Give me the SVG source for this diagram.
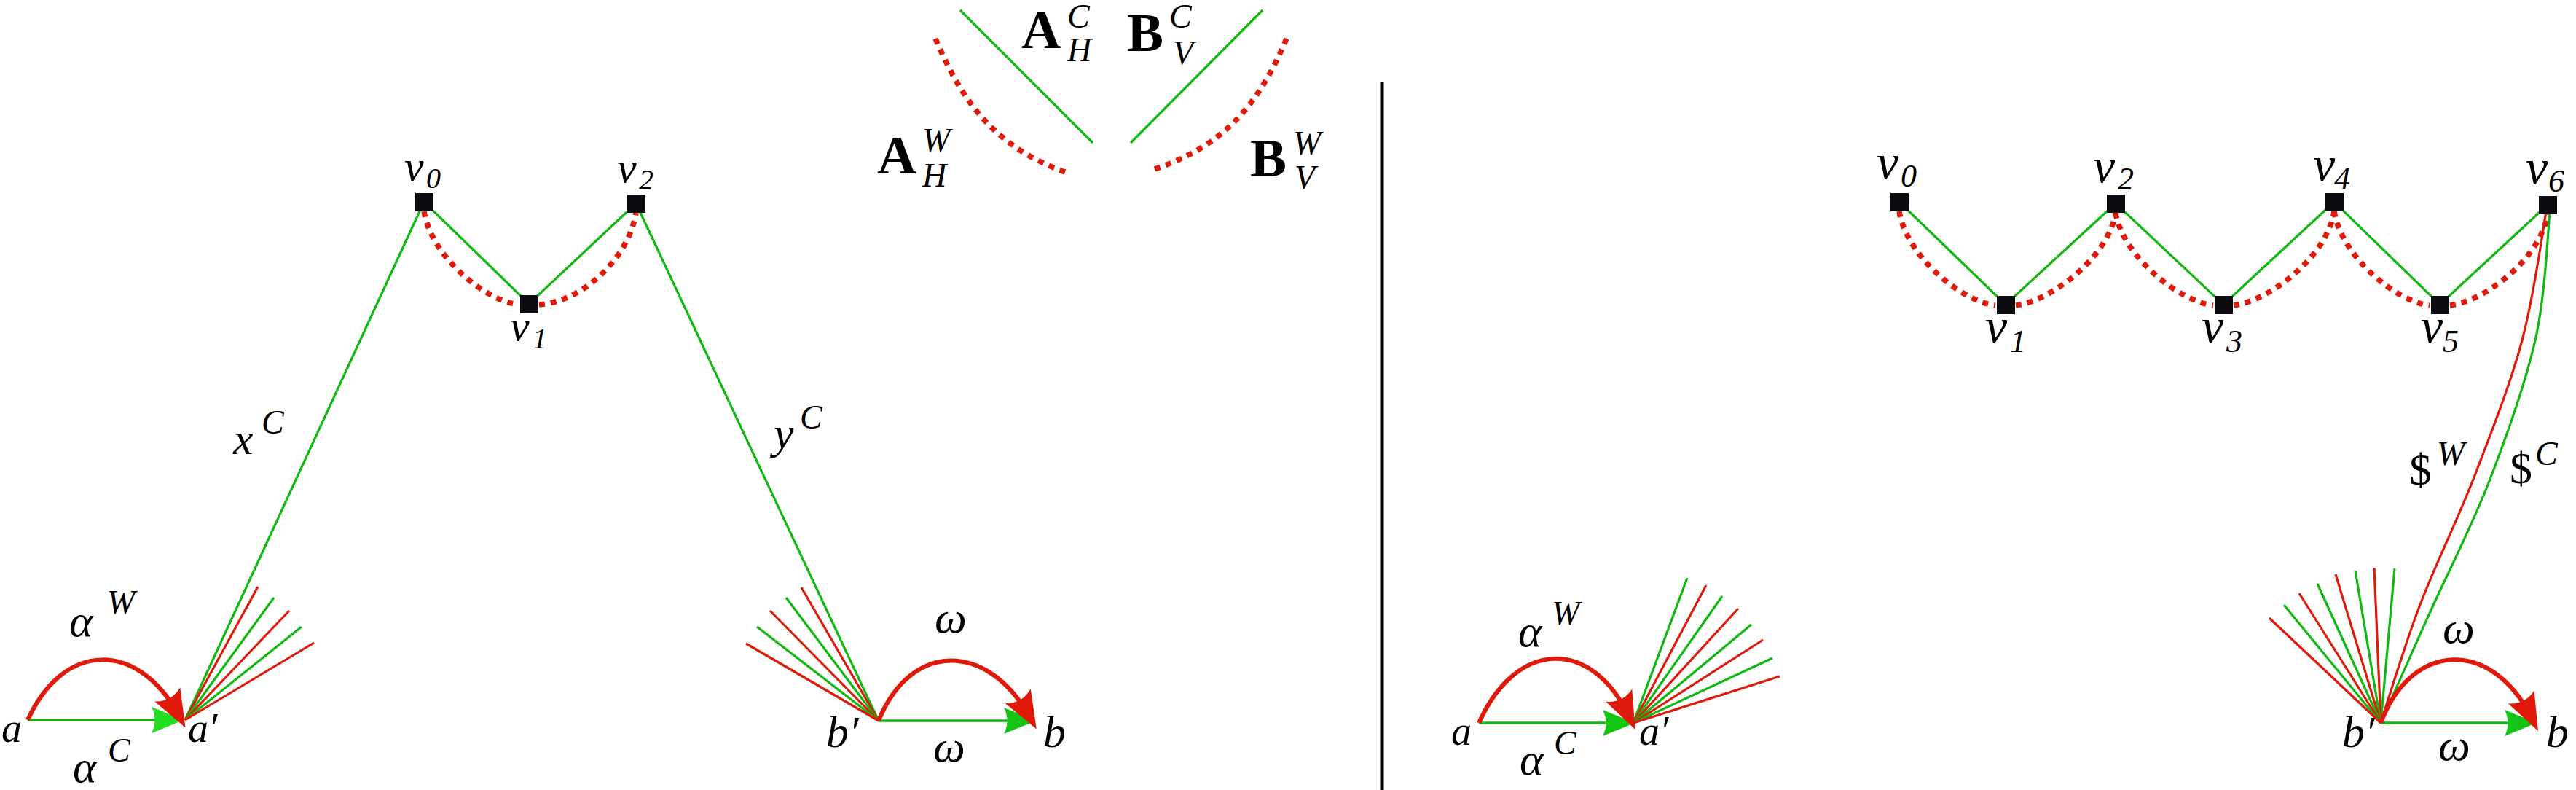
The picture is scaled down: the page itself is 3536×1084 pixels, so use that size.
<svg xmlns="http://www.w3.org/2000/svg" width="3536" height="1084" viewBox="0 0 3536 1084" font-family="'Liberation Serif', 'DejaVu Serif', serif">
<style>
.g{stroke:#12b812;stroke-width:3.2;fill:none}
.r{stroke:#e01a0a;stroke-width:3.2;fill:none}
.rd{stroke:#e01a0a;stroke-width:7.5;stroke-dasharray:8 8;fill:none}
.rt{stroke:#e01a0a;stroke-width:6;fill:none;marker-end:url(#ahR)}
.ga{stroke:#12b812;stroke-width:3.5;fill:none;marker-end:url(#ahG)}
.gal{stroke:#12b812;stroke-width:3.5;fill:none;marker-end:url(#ahGL)}
.sq{fill:#0c0c10}
text{font-family:'Liberation Serif','DejaVu Serif',serif;font-style:italic;fill:#000}
.bf{font-weight:bold;font-style:normal}
.ss{font-weight:normal;font-style:italic;font-size:46px}
.up{font-style:normal}
.m{font-size:62px}
.s{font-size:46px}
.vl{font-size:60px}
.vs{font-size:40px}
.vr{font-size:68px}
.vrs{font-size:44px}
</style>
<defs>
<marker id="ahR" markerUnits="userSpaceOnUse" viewBox="0 -22 54 44" refX="32" refY="0" markerWidth="54" markerHeight="44" orient="auto">
<path d="M52,0 L0,-20 Q12,0 0,20 Z" fill="#e01a0a"/>
</marker>
<marker id="ahG" markerUnits="userSpaceOnUse" viewBox="0 -20 46 40" refX="30" refY="0" markerWidth="46" markerHeight="40" orient="auto">
<path d="M44,0 L0,-18 Q9,0 0,18 Z" fill="#14c414"/>
</marker>
<marker id="ahGL" markerUnits="userSpaceOnUse" viewBox="0 -20 46 40" refX="30" refY="0" markerWidth="46" markerHeight="40" orient="auto">
<path d="M44,0 L0,-18 Q9,0 0,18 Z" fill="#22dd22"/>
</marker>
</defs>
<rect width="3536" height="1084" fill="#fff"/>

<g id="legend">
<line class="g" x1="1318" y1="14" x2="1500" y2="196"/>
<line class="g" x1="1733" y1="14" x2="1552" y2="196"/>
<path class="rd" d="M1284,53 C1323,145 1370,204 1465,237"/>
<path class="rd" d="M1766,53 C1727,145 1680,200 1585,232"/>
<text class="bf" x="1402" y="66" font-size="75" font-family="'Liberation Serif', serif">A<tspan class="ss" x="1465" y="38">C</tspan><tspan class="ss" x="1465" y="84">H</tspan></text>
<text class="bf" x="1547" y="70" font-size="75" font-family="'Liberation Serif', serif">B<tspan class="ss" x="1605" y="38">C</tspan><tspan class="ss" x="1610" y="88">V</tspan></text>
<text class="bf" x="1204" y="238" font-size="75" font-family="'Liberation Serif', serif">A<tspan class="ss" x="1266" y="208">W</tspan><tspan class="ss" x="1266" y="256">H</tspan></text>
<text class="bf" x="1716" y="242" font-size="75" font-family="'Liberation Serif', serif">B<tspan class="ss" x="1775" y="212">W</tspan><tspan class="ss" x="1777" y="259">V</tspan></text>
</g>

<line id="divider" x1="1897" y1="112" x2="1897" y2="1084" stroke="#000" stroke-width="5"/>

<g id="connectors">
<!-- left panel -->
<line class="g" x1="254" y1="988" x2="582" y2="277"/>
<line class="g" x1="1206" y1="989" x2="873" y2="279"/>
<polyline class="g" points="582,277 726,417 873,279"/>
<path class="rd" d="M582,290 C592,352 666,413 712,418"/>
<path class="rd" d="M740,418 C800,414 863,354 873,292"/>
<line class="r" x1="254" y1="988" x2="354" y2="805"/>
<line class="g" x1="254" y1="988" x2="376" y2="820"/>
<line class="r" x1="254" y1="988" x2="397" y2="838"/>
<line class="g" x1="254" y1="988" x2="414" y2="860"/>
<line class="r" x1="254" y1="988" x2="431" y2="882"/>
<line class="r" x1="1206" y1="989" x2="1100" y2="806"/>
<line class="g" x1="1206" y1="989" x2="1079" y2="820"/>
<line class="r" x1="1206" y1="989" x2="1057" y2="838"/>
<line class="g" x1="1206" y1="989" x2="1039" y2="860"/>
<line class="r" x1="1206" y1="989" x2="1024" y2="883"/>
<path class="gal" d="M38,988 L238,988"/>
<path class="rt" d="M38,988 C88,878 190,880 245,981"/>
<path class="ga" d="M1206,989 L1408,989"/>
<path class="rt" d="M1206,989 C1250,880 1355,880 1413,983"/>
<!-- right panel -->
<polyline class="g" points="2607,277 2753,418 2904,279 3052,418 3204,277 3349,418 3497,281"/>
<path class="rd" d="M2607,290 C2617,352 2693,414 2739,419"/>
<path class="rd" d="M2767,419 C2813,414 2894,354 2904,292"/>
<path class="rd" d="M2904,292 C2914,352 2992,414 3038,419"/>
<path class="rd" d="M3066,419 C3112,414 3194,354 3204,290"/>
<path class="rd" d="M3204,290 C3214,352 3289,414 3335,419"/>
<path class="rd" d="M3363,419 C3409,414 3487,356 3497,294"/>
<path class="r" d="M3268,992 C3277,964 3301,884 3323,827 C3345,770 3375,710 3398,650 C3421,590 3446,527 3462,467 C3478,407 3490,320 3495,290"/>
<path class="g" d="M3268,992 C3280,966 3312,892 3337,837 C3362,782 3393,722 3417,660 C3441,598 3466,528 3480,467 C3494,406 3497,321 3500,292"/>
<line class="g" x1="2242" y1="992" x2="2316" y2="793"/>
<line class="r" x1="2242" y1="992" x2="2342" y2="803"/>
<line class="g" x1="2242" y1="992" x2="2364" y2="818"/>
<line class="r" x1="2242" y1="992" x2="2386" y2="835"/>
<line class="g" x1="2242" y1="992" x2="2404" y2="857"/>
<line class="r" x1="2242" y1="992" x2="2420" y2="878"/>
<line class="g" x1="2242" y1="992" x2="2433" y2="903"/>
<line class="r" x1="2242" y1="992" x2="2443" y2="928"/>
<line class="g" x1="3268" y1="992" x2="3287" y2="780"/>
<line class="r" x1="3268" y1="992" x2="3259" y2="779"/>
<line class="g" x1="3268" y1="992" x2="3233" y2="783"/>
<line class="r" x1="3268" y1="992" x2="3206" y2="788"/>
<line class="g" x1="3268" y1="992" x2="3181" y2="801"/>
<line class="r" x1="3268" y1="992" x2="3156" y2="814"/>
<line class="g" x1="3268" y1="992" x2="3135" y2="830"/>
<line class="r" x1="3268" y1="992" x2="3115" y2="848"/>
<path class="ga" d="M2030,992 L2230,992"/>
<path class="rt" d="M2030,992 C2082,876 2185,876 2236,983"/>
<path class="ga" d="M3268,992 L3468,992"/>
<path class="rt" d="M3268,992 C3310,880 3420,875 3475,985"/>
<!-- edge labels -->
<text class="m" x="320" y="623">x<tspan class="s" x="359" y="595">C</tspan></text>
<text class="m" x="1062" y="615">y<tspan class="s" x="1098" y="588">C</tspan></text>
<text class="m" x="95" y="873">α<tspan class="s" x="147" y="842">W</tspan></text>
<text class="m" x="100" y="1073">α<tspan class="s" x="148" y="1045">C</tspan></text>
<text class="m" x="1283" y="868">ω</text>
<text class="m" x="1281" y="1045">ω</text>
<text class="m" x="2084" y="887">α<tspan class="s" x="2130" y="857">W</tspan></text>
<text class="m" x="2086" y="1063">α<tspan class="s" x="2133" y="1035">C</tspan></text>
<text class="m" x="3353" y="882">ω</text>
<text class="m" x="3347" y="1043">ω</text>
<text class="m" x="3307" y="665"><tspan class="up">$</tspan><tspan class="s" x="3345" y="638">W</tspan></text>
<text class="m" x="3445" y="663"><tspan class="up">$</tspan><tspan class="s" x="3480" y="638">C</tspan></text>
</g>

<g id="L-v0"><rect class="sq" x="570" y="265" width="25" height="25"/><text class="vl" x="555" y="248">v<tspan class="vs" x="585" y="258">0</tspan></text></g>
<g id="L-v1"><rect class="sq" x="714" y="405" width="25" height="25"/><text class="vl" x="700" y="467">v<tspan class="vs" x="731" y="478">1</tspan></text></g>
<g id="L-v2"><rect class="sq" x="861" y="267" width="25" height="25"/><text class="vl" x="847" y="250">v<tspan class="vs" x="877" y="260">2</tspan></text></g>
<g id="L-a"><text class="vl" x="2" y="1018" style="font-size:56px">a</text></g>
<g id="L-a1"><text class="vl" x="258" y="1018" style="font-size:56px">a′</text></g>
<g id="L-b1"><text class="m" x="1134" y="1025">b′</text></g>
<g id="L-b"><text class="m" x="1432" y="1025">b</text></g>

<g id="R-v0"><rect class="sq" x="2595" y="265" width="25" height="25"/><text class="vr" x="2576" y="245">v<tspan class="vrs" x="2609" y="256">0</tspan></text></g>
<g id="R-v1"><rect class="sq" x="2741" y="406" width="25" height="25"/><text class="vr" x="2725" y="470">v<tspan class="vrs" x="2759" y="483">1</tspan></text></g>
<g id="R-v2"><rect class="sq" x="2892" y="267" width="25" height="25"/><text class="vr" x="2873" y="250">v<tspan class="vrs" x="2907" y="260">2</tspan></text></g>
<g id="R-v3"><rect class="sq" x="3040" y="406" width="25" height="25"/><text class="vr" x="3022" y="470">v<tspan class="vrs" x="3056" y="483">3</tspan></text></g>
<g id="R-v4"><rect class="sq" x="3192" y="265" width="25" height="25"/><text class="vr" x="3175" y="248">v<tspan class="vrs" x="3204" y="260">4</tspan></text></g>
<g id="R-v5"><rect class="sq" x="3337" y="406" width="25" height="25"/><text class="vr" x="3323" y="470">v<tspan class="vrs" x="3353" y="483">5</tspan></text></g>
<g id="R-v6"><rect class="sq" x="3485" y="269" width="25" height="25"/><text class="vr" x="3467" y="252">v<tspan class="vrs" x="3498" y="263">6</tspan></text></g>
<g id="R-a"><text class="vl" x="1992" y="1022" style="font-size:56px">a</text></g>
<g id="R-a1"><text class="vl" x="2250" y="1022" style="font-size:56px">a′</text></g>
<g id="R-b1"><text class="m" x="3215" y="1025">b′</text></g>
<g id="R-b"><text class="m" x="3495" y="1025">b</text></g>
</svg>
